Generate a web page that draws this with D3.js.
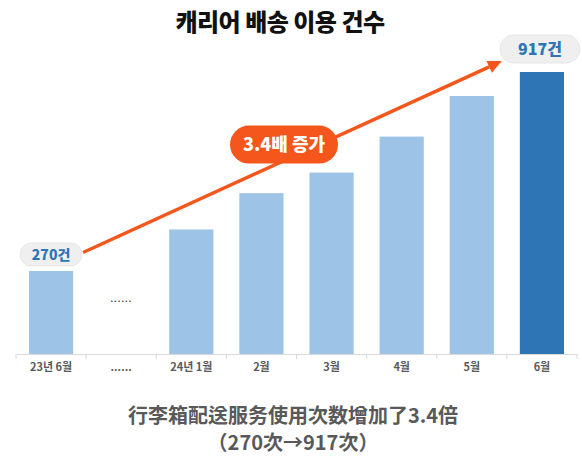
<!DOCTYPE html>
<html>
<head>
<meta charset="utf-8">
<script src="https://cdn.jsdelivr.net/npm/d3@7"></script>
<style>
  body { margin: 0; background: #fff; }
  svg { display: block; }
  text { font-family: "Noto Sans CJK KR", "Noto Sans", sans-serif; }
</style>
</head>
<body>
<svg width="582" height="459"></svg>
<script>
(function () {

	var categories = ["23년 6월", "......", "24년 1월", "2월", "3월", "4월", "5월", "6월"];
	var values = [270, null, 405, 523, 590, 707, 839, 917];
	var highlight = "6월";
	var title = "캐리어 배송 이용 건수";
	var growthLabel = "3.4배 증가";
	var caption = ["行李箱配送服务使用次数增加了3.4倍", "（270次→917次）"];

	var data = categories.map(function (c, i) { return { cat: c, value: values[i] }; });

	var svg = d3.select("svg");

	var x = d3.scaleBand()
		.domain(categories)
		.range([16, 577])
		.paddingInner(0.37)
		.paddingOuter(0.185);

	var y = d3.scaleLinear()
		.domain([0, 917])
		.range([354, 72]);

	var step = x.step();

	// title
	svg.append("text")
		.attr("x", 280)
		.attr("y", 31)
		.attr("text-anchor", "middle")
		.attr("font-size", 24)
		.attr("font-weight", 900)
		.attr("fill", "#111")
		.attr("letter-spacing", -0.5)
		.text(title);

	// bars
	svg.selectAll("rect.bar")
		.data(data.filter(function (d) { return d.value != null; }))
		.enter()
		.append("rect")
		.attr("class", "bar")
		.attr("x", function (d) { return x(d.cat); })
		.attr("y", function (d) { return y(d.value); })
		.attr("width", x.bandwidth())
		.attr("height", function (d) { return y(0) - y(d.value); })
		.attr("fill", function (d) { return d.cat === highlight ? "#2E75B6" : "#9DC3E6"; });

	// dots in the gap
	svg.append("text")
		.attr("x", x("......") + x.bandwidth() / 2)
		.attr("y", 302)
		.attr("text-anchor", "middle")
		.attr("font-size", 11)
		.attr("letter-spacing", 0.6)
		.attr("fill", "#333")
		.text("......");

	// axis
	var axis = d3.axisBottom(x).tickSize(0).tickPadding(9);
	var gx = svg.append("g")
		.attr("transform", "translate(0," + y(0) + ")")
		.call(axis);
	gx.select(".domain").attr("stroke", "#d9d9d9").attr("stroke-width", 1.2);
	gx.selectAll(".tick text")
		.attr("font-size", 11)
		.attr("font-weight", 700)
		.attr("fill", "#595959")
		.attr("font-family", "\"Noto Sans CJK KR\", sans-serif");
	gx.selectAll("line.sep")
		.data(categories)
		.enter()
		.append("line")
		.attr("class", "sep")
		.attr("x1", function (d) { return x(d) - step * 0.185; })
		.attr("x2", function (d) { return x(d) - step * 0.185; })
		.attr("y1", 0)
		.attr("y2", 5)
		.attr("stroke", "#d9d9d9");
	gx.append("line")
		.attr("x1", 577).attr("x2", 577).attr("y1", 0).attr("y2", 5)
		.attr("stroke", "#d9d9d9");

	// value pills
	var first = data[0], last = data[data.length - 1];
	var p1 = { cx: x(first.cat) + x.bandwidth() / 2, cy: y(first.value) - 16.5, w: 62, h: 23, fs: 14, label: first.value + "건" };
	var p2 = { cx: x(last.cat) + x.bandwidth() / 2 - 2, cy: y(last.value) - 23, w: 80, h: 28, fs: 16, label: last.value + "건" };

	var orange = "#F4561B";

	// arrow
	var sx = p1.cx + p1.w / 2 + 1, sy = p1.cy - 2;
	var ex = p2.cx - p2.w / 2 + 2, ey = p2.cy + 12;
	var ang = Math.atan2(ey - sy, ex - sx);
	var al = 14, aw = 6.5;
	var bx = ex - al * Math.cos(ang), by = ey - al * Math.sin(ang);
	svg.append("line")
		.attr("x1", sx).attr("y1", sy)
		.attr("x2", bx).attr("y2", by)
		.attr("stroke", orange)
		.attr("stroke-width", 3.5);
	svg.append("polygon")
		.attr("points", [
			[ex, ey],
			[bx + aw * Math.sin(ang), by - aw * Math.cos(ang)],
			[bx - aw * Math.sin(ang), by + aw * Math.cos(ang)]
		].map(function (p) { return p.join(","); }).join(" "))
		.attr("fill", orange);

	[p1, p2].forEach(function (p) {
		svg.append("rect")
			.attr("x", p.cx - p.w / 2)
			.attr("y", p.cy - p.h / 2)
			.attr("width", p.w)
			.attr("height", p.h)
			.attr("rx", p.h / 2)
			.attr("fill", "#EFEFEF")
			.attr("stroke", "#e2e2e2")
			.attr("stroke-width", 0.8);
		svg.append("text")
			.attr("x", p.cx)
			.attr("y", p.cy)
			.attr("dy", "0.36em")
			.attr("text-anchor", "middle")
			.attr("font-size", p.fs)
			.attr("font-weight", 900)
			.attr("fill", "#2E75B6")
			.text(p.label);
	});

	// growth pill on the arrow
	var gxp = 284, t = (gxp - sx) / (ex - sx);
	var gyp = sy + t * (ey - sy) - 16;
	svg.append("rect")
		.attr("x", gxp - 54)
		.attr("y", gyp - 19)
		.attr("width", 108)
		.attr("height", 38)
		.attr("rx", 19)
		.attr("fill", orange);
	svg.append("text")
		.attr("x", gxp)
		.attr("y", gyp)
		.attr("dy", "0.36em")
		.attr("text-anchor", "middle")
		.attr("font-size", 18)
		.attr("font-weight", 900)
		.attr("fill", "#fff")
		.text(growthLabel);

	// caption
	svg.selectAll("text.caption")
		.data(caption)
		.enter()
		.append("text")
		.attr("class", "caption")
		.attr("x", 293)
		.attr("y", function (d, i) { return 416 + i * 27; })
		.attr("dy", "0.36em")
		.attr("text-anchor", "middle")
		.attr("font-size", 20)
		.attr("font-weight", 700)
		.attr("fill", "#595959")
		.attr("font-family", "\"Noto Sans CJK SC\", sans-serif")
		.text(function (d) { return d; });

})();
</script>
</body>
</html>
